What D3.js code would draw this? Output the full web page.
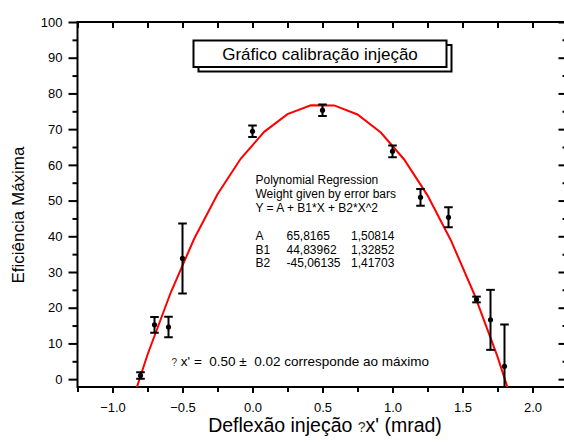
<!DOCTYPE html>
<html>
<head>
<meta charset="utf-8">
<script src="https://cdn.jsdelivr.net/npm/d3@7"></script>
<style>
  html, body { margin: 0; padding: 0; background: #fff; }
  svg { display: block; font-family: "Liberation Sans", Arial, sans-serif; }
</style>
</head>
<body>
<svg id="chart" width="564" height="443"></svg>
<script>
// Measured deflection (mrad), maximum efficiency and error bar half-widths
const deflection = [-0.8, -0.7, -0.6, -0.5, 0.0, 0.5, 1.0, 1.2, 1.4, 1.6, 1.7, 1.8];
const efficiency = [1.0, 15.2, 14.6, 33.8, 69.4, 75.3, 63.8, 50.9, 45.3, 22.3, 16.6, 3.6];
const errors     = [0.9, 2.2, 2.9, 9.8, 1.6, 1.6, 1.65, 2.35, 2.8, 0.8, 8.4, 11.7];

// Polynomial regression coefficients (A, B1, B2) with their standard errors
const coefNames  = ["A", "B1", "B2"];
const coefValues = [65.8165, 44.83962, -45.06135];
const coefErrors = ["1,50814", "1,32852", "1,41703"];
const coefText   = ["65,8165", "44,83962", "-45,06135"];

// Fit curve evaluated on a coarse grid of x positions
const fitX = d3.range(-11, 24, 2).map(k => k / 12);

// Axis tick values
const xMajorTicks = [-1.0, -0.5, 0.0, 0.5, 1.0, 1.5, 2.0];
const xMinorTicks = [-1.25, -0.75, -0.25, 0.25, 0.75, 1.25, 1.75, 2.25];
const yMajorTicks = [0, 10, 20, 30, 40, 50, 60, 70, 80, 90, 100];
const yMinorTicks = [5, 15, 25, 35, 45, 55, 65, 75, 85, 95];

const svg = d3.select("#chart");
const plotLeft = 77.5, plotRight = 567.5, plotTop = 22, plotBottom = 387;

const x = d3.scaleLinear().domain([-1.25, 2.25]).range([plotLeft, plotRight]);
const y = d3.scaleLinear().domain([-2.2, 100]).range([plotBottom, plotTop]);

svg.append("defs").append("clipPath").attr("id", "plotClip")
  .append("rect").attr("x", plotLeft).attr("y", plotTop)
  .attr("width", plotRight - plotLeft).attr("height", plotBottom - plotTop);

// ---- Axes ----
function styleAxis(g) {
  g.select(".domain").remove();
  g.selectAll("line").attr("stroke", "#000").attr("stroke-width", 2);
  g.selectAll("text").attr("fill", "#000").attr("font-size", 13)
    .attr("font-family", "'Liberation Sans', Arial, sans-serif");
}

// bottom
svg.append("g").attr("transform", `translate(0,${plotBottom})`)
  .call(d3.axisBottom(x).tickValues(xMajorTicks).tickSize(6).tickPadding(10)
        .tickFormat(d3.format(".1f")))
  .call(styleAxis);
svg.append("g").attr("transform", `translate(0,${plotBottom})`)
  .call(d3.axisBottom(x).tickValues(xMinorTicks).tickSize(5).tickFormat(""))
  .call(styleAxis);

// top (inward ticks)
svg.append("g").attr("transform", `translate(0,${plotTop})`)
  .call(d3.axisBottom(x).tickValues(xMajorTicks.concat(xMinorTicks)).tickSize(6).tickFormat(""))
  .call(styleAxis);

// left
svg.append("g").attr("transform", `translate(${plotLeft},0)`)
  .call(d3.axisLeft(y).tickValues(yMajorTicks).tickSize(9).tickPadding(6))
  .call(styleAxis);
svg.append("g").attr("transform", `translate(${plotLeft},0)`)
  .call(d3.axisLeft(y).tickValues(yMinorTicks).tickSize(5).tickFormat(""))
  .call(styleAxis);

// right (inward ticks)
svg.append("g").attr("transform", `translate(${plotRight},0)`)
  .call(d3.axisLeft(y).tickValues(yMajorTicks).tickSize(9).tickFormat(""))
  .call(styleAxis);
svg.append("g").attr("transform", `translate(${plotRight},0)`)
  .call(d3.axisLeft(y).tickValues(yMinorTicks).tickSize(5).tickFormat(""))
  .call(styleAxis);

// frame
svg.append("rect").attr("x", plotLeft).attr("y", plotTop)
  .attr("width", plotRight - plotLeft).attr("height", plotBottom - plotTop)
  .attr("fill", "none").attr("stroke", "#000").attr("stroke-width", 2);

// ---- Title box with offset shadow ----
const box = { x: 193.5, y: 40.5, w: 253, h: 26.5 };
svg.append("rect").attr("x", box.x + 5).attr("y", box.y + 4.5)
  .attr("width", box.w).attr("height", box.h)
  .attr("fill", "none").attr("stroke", "#000").attr("stroke-width", 2);
svg.append("rect").attr("x", box.x).attr("y", box.y)
  .attr("width", box.w).attr("height", box.h)
  .attr("fill", "#fff").attr("stroke", "#000").attr("stroke-width", 2);
svg.append("text").attr("x", 320).attr("y", box.y + 19.5)
  .attr("text-anchor", "middle").attr("font-size", 17).attr("fill", "#000")
  .text("Gráfico calibração injeção");

// ---- Fit curve ----
const fitY = fitX.map(v => coefValues[0] + coefValues[1] * v + coefValues[2] * v * v);
const plot = svg.append("g").attr("clip-path", "url(#plotClip)");
plot.append("path")
  .datum(fitX.map((v, i) => [v, fitY[i]]))
  .attr("fill", "none").attr("stroke", "#ff0000").attr("stroke-width", 2)
  .attr("d", d3.line().x(d => x(d[0])).y(d => y(d[1])));

// ---- Data with error bars ----
const points = deflection.map((d, i) => ({ x: d, y: efficiency[i], e: errors[i] }));
const cap = 4.3;
const eb = plot.selectAll("g.pt").data(points).join("g").attr("class", "pt");
eb.append("line")
  .attr("x1", d => x(d.x)).attr("x2", d => x(d.x))
  .attr("y1", d => y(d.y + d.e)).attr("y2", d => y(d.y - d.e))
  .attr("stroke", "#000").attr("stroke-width", 2);
eb.append("line")
  .attr("x1", d => x(d.x) - cap).attr("x2", d => x(d.x) + cap)
  .attr("y1", d => y(d.y + d.e)).attr("y2", d => y(d.y + d.e))
  .attr("stroke", "#000").attr("stroke-width", 2);
eb.append("line")
  .attr("x1", d => x(d.x) - cap).attr("x2", d => x(d.x) + cap)
  .attr("y1", d => y(d.y - d.e)).attr("y2", d => y(d.y - d.e))
  .attr("stroke", "#000").attr("stroke-width", 2);
eb.append("circle")
  .attr("cx", d => x(d.x)).attr("cy", d => y(d.y)).attr("r", 2.6)
  .attr("fill", "#000");

// ---- Regression annotation ----
const note = svg.append("g").attr("font-size", 12).attr("fill", "#000");
const noteLines = ["Polynomial Regression", "Weight given by error bars", "Y = A + B1*X + B2*X^2"];
noteLines.forEach((t, i) => {
  note.append("text").attr("x", 255.5).attr("y", 183.5 + i * 14).text(t);
});
coefNames.forEach((n, i) => {
  const yy = 240 + i * 13.7;
  note.append("text").attr("x", 255.5).attr("y", yy).text(n);
  note.append("text").attr("x", 286.5).attr("y", yy).text(coefText[i]);
  note.append("text").attr("x", 351).attr("y", yy).text(coefErrors[i]);
});

// Position of the maximum
const maxText = svg.append("text").attr("x", 171.5).attr("y", 365.5)
  .attr("font-size", 13.5).attr("fill", "#000").attr("xml:space", "preserve");
maxText.append("tspan").attr("font-size", 10).attr("fill", "#333").text("?");
maxText.append("tspan").text(" x' =  0.50 ±  0.02 corresponde ao máximo");

// ---- Axis titles ----
const xt = svg.append("text").attr("x", 325).attr("y", 432)
  .attr("text-anchor", "middle").attr("font-size", 19.5).attr("fill", "#000")
  .attr("xml:space", "preserve");
xt.append("tspan").text("Deflexão injeção ");
xt.append("tspan").attr("font-size", 14).attr("fill", "#333").text("?");
xt.append("tspan").text("x' (mrad)");

svg.append("text")
  .attr("transform", "translate(23.5,215) rotate(-90)")
  .attr("text-anchor", "middle").attr("font-size", 17).attr("fill", "#000")
  .text("Eficiência Máxima");
</script>
</body>
</html>
